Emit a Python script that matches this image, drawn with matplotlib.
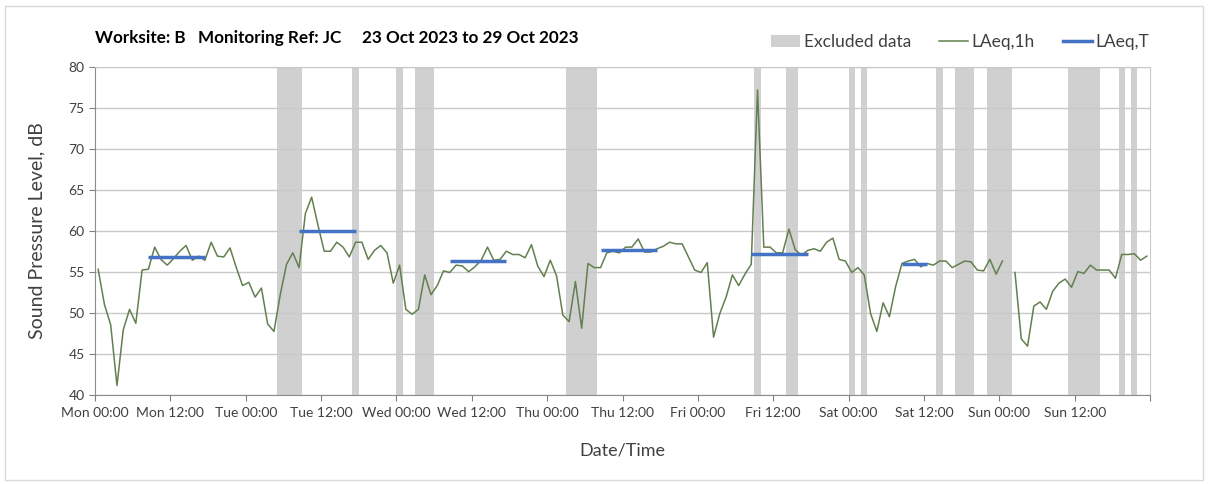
import numpy as np
import matplotlib
matplotlib.use("Agg")
import matplotlib.pyplot as plt
from matplotlib.patches import Patch, Rectangle
from matplotlib.lines import Line2D
from matplotlib.ticker import MultipleLocator

plt.rcParams['font.family'] = ['Lato', 'DejaVu Sans']

# hourly LAeq,1h from Mon 23 Oct 2023 00:00 (nan = no data)
laeq_1h = [
    55.3, 51.0, 48.5, 41.1, 47.9, 50.4, 48.7, 55.2, 55.3, 58.0, 56.5, 55.8,
    56.6, 57.5, 58.2, 56.4, 56.9, 56.4, 58.6, 56.9, 56.8, 57.9, 55.5, 53.3,
    53.7, 51.9, 53.0, 48.6, 47.7, 52.2, 55.9, 57.3, 55.5, 62.1, 64.1, 60.7,
    57.5, 57.5, 58.6, 58.0, 56.8, 58.6, 58.6, 56.5, 57.6, 58.2, 57.3, 53.6,
    55.8, 50.4, 49.8, 50.4, 54.6, 52.2, 53.3, 55.1, 54.9, 55.8, 55.7, 55.0,
    55.6, 56.4, 58.0, 56.4, 56.5, 57.5, 57.1, 57.1, 56.7, 58.3, 55.7, 54.4,
    56.4, 54.5, 49.7, 48.9, 53.8, 48.1, 56.0, 55.5, 55.5, 57.3, 57.5, 57.3,
    58.0, 58.0, 59.0, 57.4, 57.4, 57.8, 58.1, 58.6, 58.4, 58.4, 56.8, 55.2,
    54.9, 56.1, 47.0, 49.9, 51.9, 54.6, 53.3, 54.7, 55.9, 77.2, 58.0, 58.0,
    57.3, 57.3, 60.2, 57.7, 57.0, 57.6, 57.8, 57.5, 58.6, 59.1, 56.5, 56.3,
    54.9, 55.5, 54.6, 49.9, 47.7, 51.2, 49.5, 53.2, 56.0, 56.3, 56.5, 55.6,
    56.0, 55.8, 56.3, 56.3, 55.5, 55.9, 56.3, 56.2, 55.2, 55.1, 56.5, 54.7,
    56.3, np.nan, 54.9, 46.8, 45.9, 50.8, 51.3, 50.4, 52.6, 53.6, 54.1, 53.1,
    55.0, 54.8, 55.8, 55.2, 55.2, 55.2, 54.2, 57.1, 57.1, 57.2, 56.4, 56.9,
]

# excluded periods (hours from Mon 00:00)
excl_start = [29, 41, 48, 51, 75, 105, 110, 120, 122, 134, 137, 142, 155, 163, 165]
excl_end = [33, 42, 49, 54, 80, 106, 112, 121, 123, 135, 140, 146, 160, 164, 166]

# LAeq,T daytime periods: first/last hourly sample and level
period_first = [8, 32, 56, 80, 104, 128]
period_last = [17, 41, 65, 89, 113, 132]
laeq_t = [56.8, 60.0, 56.3, 57.6, 57.2, 56.0]

days = ['Mon', 'Tue', 'Wed', 'Thu', 'Fri', 'Sat', 'Sun']

# samples plotted mid-hour
t = np.arange(len(laeq_1h)) + 0.5

fig = plt.figure(figsize=(12.08, 4.84), dpi=100)
ax = fig.add_axes([95 / 1208, 1 - 394.5 / 484, 1055 / 1208, 327.5 / 484])

for a, b in zip(excl_start, excl_end):
    ax.axvspan(a, b, color='#d0d0d0', lw=0, zorder=0.2)

ax.plot(t, laeq_1h, color='#62804f', lw=1.1, zorder=3)

for i0, i1, v in zip(period_first, period_last, laeq_t):
    ax.plot(t[[i0, i1]], [v, v], color='#4472c4', lw=2.5, zorder=4,
            solid_capstyle='butt')

# axes
ax.set_xlim(0, 168)
ax.set_ylim(40, 80)
ax.yaxis.set_major_locator(MultipleLocator(5))
ax.set_xticks(np.arange(0, 169, 12))
ax.set_xticklabels([f"{days[i // 2]} {'00:00' if i % 2 == 0 else '12:00'}"
                    for i in range(14)] + [''])
ax.set_xticks(np.arange(0, 169, 24), minor=True)
ax.tick_params(axis='x', which='minor', length=0)
ax.tick_params(axis='both', which='major', labelsize=10, colors='#404040',
               length=4, width=0.8, color='#808080')
ax.tick_params(axis='x', which='major', pad=5)
ax.grid(axis='y', which='major', color='#c9c9c9', lw=1, zorder=0.5)
ax.grid(axis='x', which='minor', color='#dcdcdc', lw=1, zorder=0.5)
ax.grid(axis='x', which='major', visible=False)
for side in ['top', 'right']:
    ax.spines[side].set_color('#c9c9c9')
for side in ['left', 'bottom']:
    ax.spines[side].set_color('#8c8c8c')

ax.set_ylabel('Sound Pressure Level, dB', fontsize=14, color='#404040')
ax.yaxis.set_label_coords(-0.047, 0.5)
ax.set_xlabel('Date/Time', fontsize=13, color='#404040', labelpad=17)

# title
fig.text(95 / 1208, 1 - 38 / 484,
         'Worksite: B   Monitoring Ref: JC     23 Oct 2023 to 29 Oct 2023',
         fontsize=12.3, fontweight='bold', va='center', ha='left')

# legend
handles = [Patch(facecolor='#d0d0d0', edgecolor='none'),
           Line2D([], [], color='#62804f', lw=1.1),
           Line2D([], [], color='#4472c4', lw=2.5)]
fig.legend(handles, ['Excluded data', 'LAeq,1h', 'LAeq,T'],
           loc='center right', bbox_to_anchor=(1165 / 1208, 1 - 42 / 484),
           ncol=3, frameon=False, fontsize=12.5, handlelength=1.7,
           handletextpad=0.2, columnspacing=1.6, labelcolor='#404040')

# chart border
fig.patches.append(Rectangle((5 / 1208, 4 / 484), 1198 / 1208, 474 / 484,
                             transform=fig.transFigure, fill=False,
                             edgecolor='#d9d9d9', lw=1))

fig.savefig('out.png', dpi=100)
